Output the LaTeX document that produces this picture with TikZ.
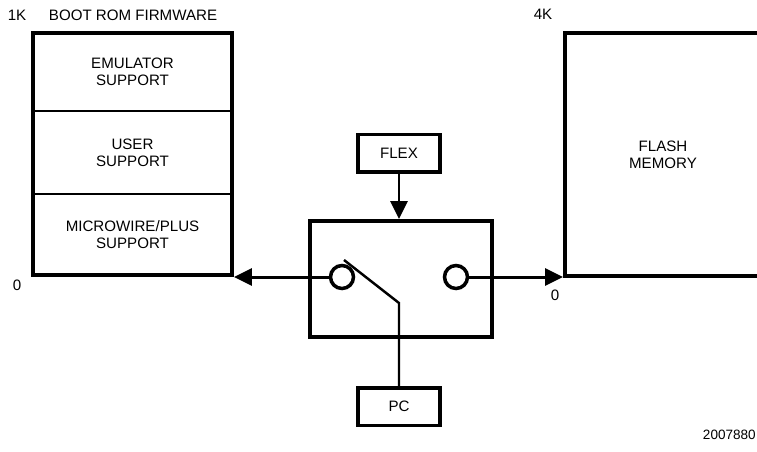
\documentclass[tikz,border=0pt]{standalone}
\usepackage{fontspec}
\setmainfont{Liberation Sans}
\usetikzlibrary{positioning,arrows.meta}

\begin{document}
\begin{tikzpicture}[
  x=0.02cm, y=-0.02cm,
  frame/.style={rectangle, draw, line width=2.2pt, inner sep=0pt},
  part/.style={rectangle, draw, line width=0.9pt, inner sep=0pt, minimum width=3.98cm,
               align=center, font=\fontsize{8.6}{9.8}\selectfont},
  ctrl/.style={rectangle, draw, line width=2pt, minimum width=1.64cm, minimum height=0.75cm,
               inner sep=0pt, font=\fontsize{8.6}{9.8}\selectfont},
  contact/.style={circle, draw, line width=2pt, minimum size=0.46cm, inner sep=0pt},
  arrow/.style={-{Triangle[length=0.36cm,width=0.34cm]}, line width=1.7pt},
  label/.style={font=\fontsize{8.6}{9.8}\selectfont}
]
\useasboundingbox (0,0) rectangle (757,451);

% boot rom sections
\node[part, minimum height=1.56cm] (emu) at (132.5,72) {EMULATOR\\SUPPORT};
\node[part, minimum height=1.66cm] (user) at (132.5,152.5) {USER\\SUPPORT};
\node[part, minimum height=1.62cm] (mw) at (132.5,234.5) {MICROWIRE/PLUS\\SUPPORT};
\node[frame, minimum width=3.98cm, minimum height=4.84cm] (rom) at (132.5,154) {};

% flash memory
\node[frame, minimum width=3.92cm, minimum height=4.86cm, align=center,
      font=\fontsize{8.6}{9.8}\selectfont] (flash) at (663,154.5) {FLASH\\MEMORY};

% switch
\node[frame, minimum width=3.64cm, minimum height=2.32cm] (sw) at (401,279) {};
\node[contact] (lc) at (342,277) {};
\node[contact] (rc) at (456,277) {};
\node[ctrl] (flex) at (399,153) {FLEX};
\node[ctrl] (pc) at (399,406.5) {PC};
\coordinate (pivot) at (399,303);
\coordinate (blade) at (344,260);

\draw[arrow] (flex.south) -- (flex.south |- sw.north);
\draw[line width=1.4pt] (pc.north) -- (pivot) -- (blade);
\draw[arrow] (lc.west) -- (lc.west -| rom.east);
\draw[arrow] (rc.east) -- (rc.east -| flash.west);

% labels
\node[label] (k1) at (17,15) {1K};
\node[label] (romtitle) at (133,15) {BOOT ROM FIRMWARE};
\node[label] (zl) at (17,285) {0};
\node[label] (k4) at (543,14) {4K};
\node[label] (zr) at (555,295) {0};
\node[anchor=east, inner sep=0pt, font=\fontsize{7.7}{9}\selectfont] (fig) at (756,435) {2007880};
\end{tikzpicture}
\end{document}
